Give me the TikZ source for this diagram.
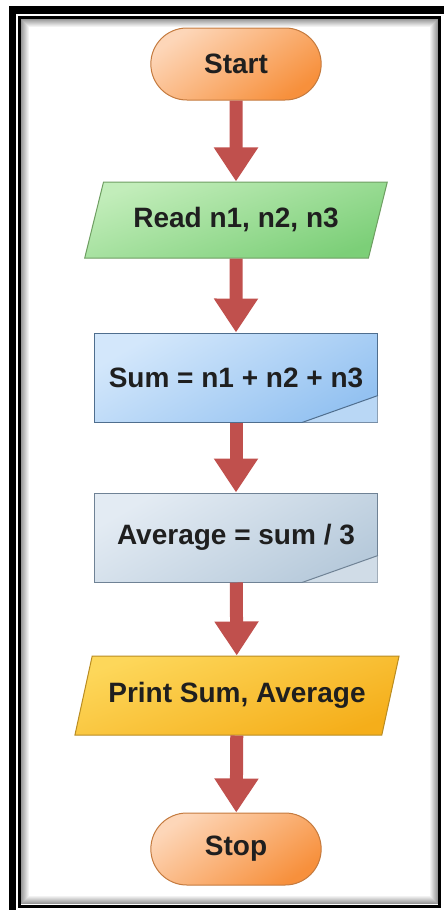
\documentclass[tikz,border=0pt]{standalone}
\usepackage{fontspec}
\setmainfont{Liberation Sans}
\usetikzlibrary{arrows.meta,shapes.misc,shapes.geometric}

\definecolor{flowred}{HTML}{C0504D}
\definecolor{termlight}{HTML}{FDD6B8}
\definecolor{termdark}{HTML}{F7903C}
\definecolor{termline}{HTML}{C47A3E}
\definecolor{readlight}{HTML}{C2EDBA}
\definecolor{readdark}{HTML}{7CCF78}
\definecolor{readline}{HTML}{6E9E62}
\definecolor{sumlight}{HTML}{D3E7FB}
\definecolor{sumdark}{HTML}{94C2F1}
\definecolor{sumline}{HTML}{4F6E8E}
\definecolor{avglight}{HTML}{E3EBF3}
\definecolor{avgdark}{HTML}{B7CADB}
\definecolor{avgline}{HTML}{6F8295}
\definecolor{printlight}{HTML}{FDD75A}
\definecolor{printdark}{HTML}{F5AE1A}
\definecolor{printline}{HTML}{B98C22}

\begin{document}
\begin{tikzpicture}[x=1pt, y=-1pt,
  every node/.style={font=\bfseries\fontsize{28}{31}\selectfont, text=black!88},
  terminal/.style={rounded rectangle, draw=termline, line width=1pt,
    minimum width=177pt, minimum height=72pt,
    top color=termlight, bottom color=termdark, shading angle=35},
  io/.style={trapezium, trapezium left angle=65, trapezium right angle=115,
    trapezium stretches=true, inner xsep=0pt,
    line width=1pt, minimum height=76pt, minimum width=303pt},
  process/.style={rectangle, line width=1pt, minimum width=283pt, minimum height=89pt},
  flow/.style={draw=flowred, line width=13pt, -{Triangle[width=42pt,length=34pt]}}]
  \useasboundingbox (0,0) rectangle (444,910);

  % frame with soft inner shadow
  \fill[black] (9,6) rectangle (444,14);
  \fill[black] (9,6) rectangle (16,910);
  \foreach \d [evaluate=\d as \op using 0.45*(1-\d/9)] in {1,...,8}
    \draw[black, opacity=\op] (20.5+\d,18.5+\d) rectangle (438.5-\d,904.5-\d);
  \draw[black, line width=3pt] (19.5,17.5) rectangle (439.5,906);

  % flowchart steps
  \node[terminal] (start) at (236,64) {Start};
  \node[io, draw=readline, top color=readlight, bottom color=readdark,
    shading angle=20] (read) at (236,220) {Read n1, n2, n3};
  \node[process, draw=sumline, top color=sumlight, bottom color=sumdark,
    shading angle=30] (sum) at (236,377.5) {Sum = n1 + n2 + n3};
  \node[process, draw=avgline, top color=avglight, bottom color=avgdark,
    shading angle=30] (avg) at (236,537.5) {Average = sum / 3};
  \node[io, draw=printline, top color=printlight, bottom color=printdark,
    shading angle=20, minimum height=79pt, minimum width=325pt] (print) at (237,695.5) {Print Sum, Average};
  \node[terminal] (stop) at (236,849) {Stop};

  % folded corners
  \foreach \blk/\edge in {sum/sumline, avg/avgline} {
    \fill[white, opacity=0.35] ([xshift=-76pt]\blk.south east) -- ([yshift=27pt]\blk.south east) -- (\blk.south east) -- cycle;
    \draw[\edge, line width=1pt] ([xshift=-76pt]\blk.south east) -- ([yshift=27pt]\blk.south east);
  }

  % arrows
  \draw[flow] (start) -- (read);
  \draw[flow] (read) -- (sum);
  \draw[flow] (sum) -- (avg);
  \draw[flow] (avg) -- (print);
  \draw[flow] (print) -- (stop);
\end{tikzpicture}
\end{document}
